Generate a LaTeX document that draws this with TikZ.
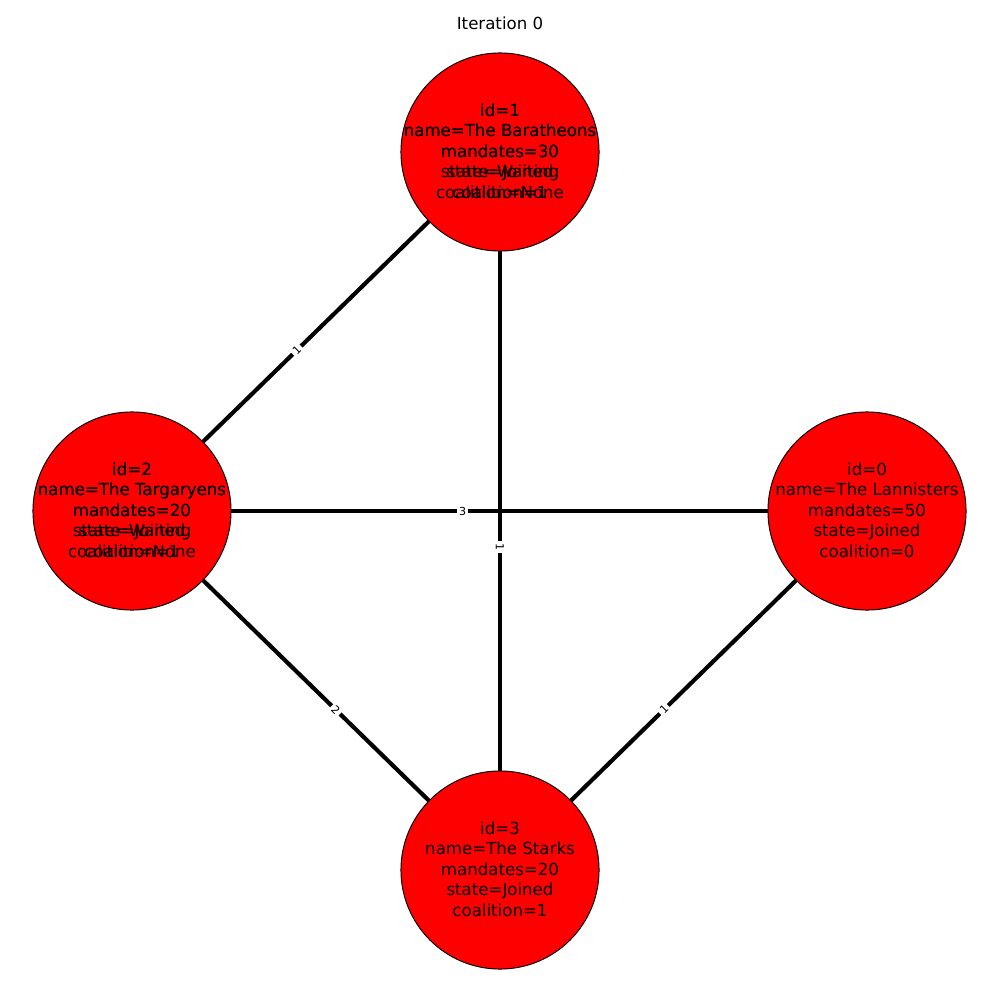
\documentclass[tikz,border=0pt]{standalone}
\usepackage{fontspec}
\setmainfont{DejaVu Sans}
\usetikzlibrary{calc}
\pgfdeclarelayer{background}
\pgfsetlayers{background,main}
\begin{document}
\begin{tikzpicture}[x=0.01in,y=-0.01in,
  party/.style={circle,draw=black,line width=0.7pt,fill=red,minimum size=1.98in,inner sep=0pt},
  ptext/.style={align=center,font=\fontsize{12}{14.8}\selectfont,inner sep=0pt},
  edgeline/.style={line width=3pt,black},
  elabel/.style={fill=white,inner sep=1.6pt,font=\fontsize{8}{9}\selectfont}]
\useasboundingbox (0,0) rectangle (1000,1000);
\node[font=\fontsize{12}{14}\selectfont] (title) at (500,23) {Iteration 0};
\node[party] (c1) at (500,152) {};
\node[party] (c2) at (132,511) {};
\node[party] (c0) at (867,511) {};
\node[party] (c3) at (500,870) {};
\begin{pgfonlayer}{background}
\draw[edgeline] (c2.center) -- node[elabel,pos=0.448,rotate=45]{1} (c1.center);
\draw[edgeline] (c2.center) -- node[elabel,pos=0.45]{3} (c0.center);
\draw[edgeline] (c1.center) -- node[elabel,pos=0.55,rotate=-90]{1} (c3.center);
\draw[edgeline] (c2.center) -- node[elabel,pos=0.554,rotate=-45]{2} (c3.center);
\draw[edgeline] (c0.center) -- node[elabel,pos=0.553,rotate=45]{1} (c3.center);
\end{pgfonlayer}
\node[ptext] (t1a) at (500,151) {id=1\\name=The Baratheons\\mandates=30\\state=Waiting\\coalition=None};
\node[ptext] (t1b) at (500,151) {id=1\\name=The Baratheons\\mandates=30\\state=Joined\\coalition=1};
\node[ptext] (t2a) at (132,510) {id=2\\name=The Targaryens\\mandates=20\\state=Waiting\\coalition=None};
\node[ptext] (t2b) at (132,510) {id=2\\name=The Targaryens\\mandates=20\\state=Joined\\coalition=1};
\node[ptext] (t0) at (867,510) {id=0\\name=The Lannisters\\mandates=50\\state=Joined\\coalition=0};
\node[ptext] (t3) at (500,869) {id=3\\name=The Starks\\mandates=20\\state=Joined\\coalition=1};
\end{tikzpicture}
\end{document}
